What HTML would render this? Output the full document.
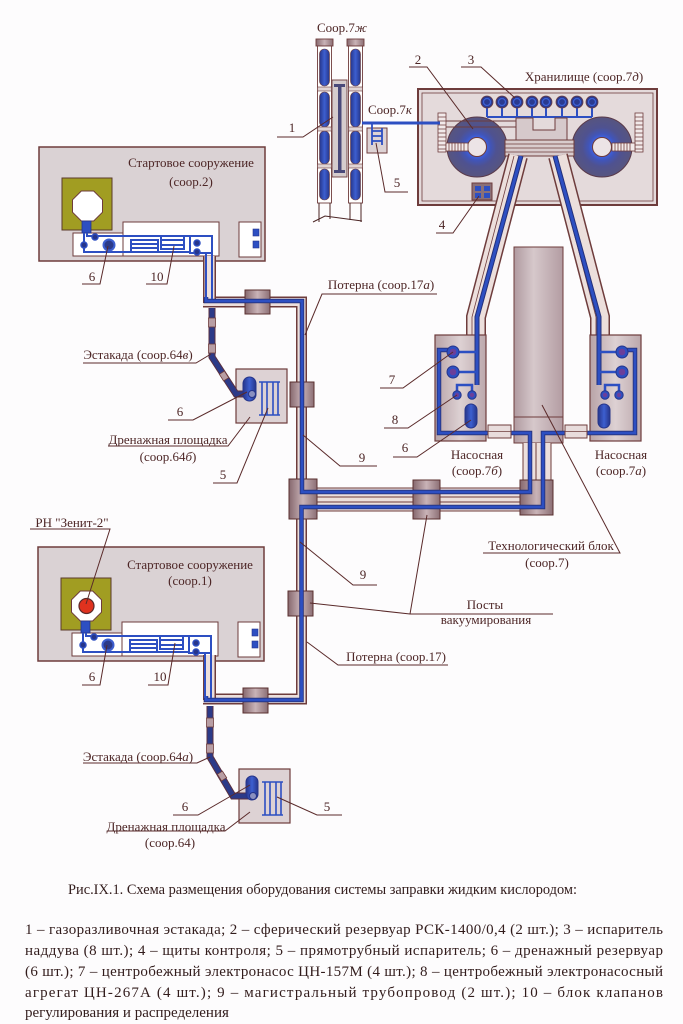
<!DOCTYPE html>
<html><head><meta charset="utf-8">
<style>
html,body{margin:0;padding:0;background:#fdfcfd;}
body{width:683px;height:1024px;overflow:hidden;position:relative;}
svg{position:absolute;left:0;top:0;}
.t{font-family:"Liberation Serif","Noto Serif CJK SC",serif;fill:#4d2626;font-size:13px;}
.c{font-family:"Liberation Serif","Noto Serif CJK SC",serif;fill:#321c1c;font-size:15px;}
</style></head>
<body>
<svg width="683" height="1024" viewBox="0 0 683 1024" xmlns="http://www.w3.org/2000/svg">
<defs>
<linearGradient id="gP" x1="0" y1="0" x2="1" y2="0">
<stop offset="0" stop-color="#86686e"/><stop offset="0.5" stop-color="#c9b3b7"/><stop offset="1" stop-color="#8c6f75"/>
</linearGradient>
<linearGradient id="gT" x1="0" y1="0" x2="1" y2="0">
<stop offset="0" stop-color="#b09aa0"/><stop offset="0.4" stop-color="#d6c8cb"/><stop offset="1" stop-color="#b39ca2"/>
</linearGradient>
<linearGradient id="gH" x1="0" y1="0" x2="1" y2="0">
<stop offset="0" stop-color="#b8a3a7"/><stop offset="0.5" stop-color="#ddd1d3"/><stop offset="1" stop-color="#bca8ac"/>
</linearGradient>
<radialGradient id="gS" cx="0.5" cy="0.5" r="0.5">
<stop offset="0.32" stop-color="#3d60e0"/><stop offset="0.45" stop-color="#4155b8"/><stop offset="0.65" stop-color="#4f5290"/><stop offset="1" stop-color="#57557f"/>
</radialGradient>
<linearGradient id="gC" x1="0" y1="0" x2="1" y2="0">
<stop offset="0" stop-color="#26358a"/><stop offset="0.5" stop-color="#3d5fd0"/><stop offset="1" stop-color="#26358a"/>
</linearGradient>
<g id="L">
<rect x="39" y="147" width="226" height="114" fill="#dad2d4" stroke="#6e3c3c" stroke-width="1.5"/>
<rect x="62" y="178" width="50" height="52" fill="#a19d22" stroke="#5a3a2a" stroke-width="1"/>
<polygon points="81.3,191 93.7,191 102.5,199.8 102.5,212.2 93.7,221 81.3,221 72.5,212.2 72.5,199.8" fill="#fff" stroke="#6e3c3c" stroke-width="1"/>
<rect x="73" y="233" width="50" height="23" fill="#fff" stroke="#6e3c3c" stroke-width="1"/>
<rect x="123" y="222" width="96" height="34" fill="#fff" stroke="#6e3c3c" stroke-width="1"/>
<rect x="239" y="222" width="22" height="35" fill="#fff" stroke="#6e3c3c" stroke-width="1"/>
<rect x="253" y="229" width="6" height="7" fill="#2d4fc2" stroke="#26358a" stroke-width="0.6"/>
<rect x="253" y="241" width="6" height="7" fill="#2d4fc2" stroke="#26358a" stroke-width="0.6"/>
<rect x="82" y="221" width="9" height="12" fill="#2d4fc2" stroke="#26358a" stroke-width="0.8"/>
<g fill="none" stroke="#2d4fc2" stroke-width="2">
<path d="M87,233 V236 H212 V298"/>
<path d="M84,233 V252 H190"/>
<path d="M206,252 V298"/>
<rect x="131" y="240" width="27" height="12"/>
<path d="M131,244 H158 M131,248 H158"/>
<rect x="161" y="236" width="23" height="13"/>
<path d="M161,240 H184 M161,245 H184"/>
<rect x="190" y="236" width="22" height="17"/>
</g>
<g fill="#26358a" stroke="#2d4fc2" stroke-width="1.5">
<circle cx="84" cy="245" r="3"/>
<circle cx="95" cy="237" r="3"/>
<circle cx="197" cy="243" r="3"/>
<circle cx="197" cy="252" r="3"/>
<circle cx="109" cy="245" r="5.5" fill="#2b3a8a" stroke="#3d5fd0" stroke-width="2"/>
</g>
</g>
</defs>

<!-- launch structures -->
<use href="#L"/>
<use href="#L" transform="translate(-1,400)"/>
<circle cx="86.5" cy="606" r="7.5" fill="#e0321e" stroke="#5a2a2a" stroke-width="1.2"/>

<!-- storage box -->
<rect x="418" y="89" width="239" height="116" fill="#e4dadb" stroke="#6e3c3c" stroke-width="2"/>
<rect x="422" y="93" width="231" height="108" fill="none" stroke="#6e3c3c" stroke-width="0.8"/>
<g stroke="#2d4fc2" stroke-width="2" fill="none">
<path d="M487,117 H592 M487,102 V117 M502,102 V117 M517,102 V117 M532,102 V117 M546,102 V117 M562,102 V117 M577,102 V117 M592,102 V117"/>
</g>
<g stroke="#6e3c3c" stroke-width="0.8">
<circle cx="487" cy="102" r="6" fill="#2a3a90"/><circle cx="502" cy="102" r="6" fill="#2a3a90"/><circle cx="517" cy="102" r="6" fill="#2a3a90"/><circle cx="532" cy="102" r="6" fill="#2a3a90"/><circle cx="546" cy="102" r="6" fill="#2a3a90"/><circle cx="562" cy="102" r="6" fill="#2a3a90"/><circle cx="577" cy="102" r="6" fill="#2a3a90"/><circle cx="592" cy="102" r="6" fill="#2a3a90"/>
</g>
<g fill="none" stroke="#3d62d8" stroke-width="1.2">
<circle cx="487" cy="102" r="3.5"/><circle cx="502" cy="102" r="3.5"/><circle cx="517" cy="102" r="3.5"/><circle cx="532" cy="102" r="3.5"/><circle cx="546" cy="102" r="3.5"/><circle cx="562" cy="102" r="3.5"/><circle cx="577" cy="102" r="3.5"/><circle cx="592" cy="102" r="3.5"/>
</g>
<circle cx="477" cy="147" r="30" fill="url(#gS)" stroke="#5a3a4a" stroke-width="1"/>
<circle cx="602" cy="147" r="30" fill="url(#gS)" stroke="#5a3a4a" stroke-width="1"/>
<circle cx="477" cy="147" r="9.5" fill="#ece4e6" stroke="#6e3c3c" stroke-width="1"/>
<circle cx="602" cy="147" r="9.5" fill="#ece4e6" stroke="#6e3c3c" stroke-width="1"/>
<path d="M440,121 H516 M440,127 H516" stroke="#6e3c3c" stroke-width="1" fill="none"/>
<path d="M516,140 V118 H533 V130 H555 V118 H567 V140 Z" fill="#d6c9cb" stroke="#6e3c3c" stroke-width="1"/>
<rect x="505" y="140" width="69" height="16" fill="#d8cbcd" stroke="#6e3c3c" stroke-width="1"/>
<path d="M505,144 H574 M505,148 H574 M505,152 H574" stroke="#6e3c3c" stroke-width="0.8"/>
<!-- ladders -->
<g fill="#f2eaea" stroke="#6e3c3c" stroke-width="0.8">
<rect x="438" y="113" width="8" height="39"/>
<rect x="446" y="143" width="22" height="8"/>
<rect x="635" y="113" width="8" height="39"/>
<rect x="612" y="143" width="23" height="8"/>
</g>
<path d="M438,117 H446 M438,121 H446 M438,125 H446 M438,129 H446 M438,133 H446 M438,137 H446 M438,141 H446 M438,145 H446 M438,149 H446 M635,117 H643 M635,121 H643 M635,125 H643 M635,129 H643 M635,133 H643 M635,137 H643 M635,141 H643 M635,145 H643 M635,149 H643 M449,143 V151 M452,143 V151 M455,143 V151 M458,143 V151 M461,143 V151 M464,143 V151 M615,143 V151 M618,143 V151 M621,143 V151 M624,143 V151 M627,143 V151 M630,143 V151" stroke="#6e3c3c" stroke-width="0.8"/>
<!-- panels 4 -->
<rect x="472" y="183" width="20" height="17" fill="#8a7078" stroke="#6e3c3c" stroke-width="1"/>
<g fill="#2d4fc2"><rect x="475" y="186" width="6" height="5"/><rect x="484" y="186" width="6" height="5"/><rect x="475" y="193" width="6" height="5"/><rect x="484" y="193" width="6" height="5"/></g>

<!-- tech block -->
<rect x="514" y="247" width="49" height="196" fill="url(#gT)" stroke="#6e3c3c" stroke-width="1"/>
<path d="M514,417 H563" stroke="#6e3c3c" stroke-width="1"/>

<!-- diagonal tunnels -->
<g fill="none" stroke-linejoin="miter">
<path d="M518,156 L476,317 V336" stroke="#6e3c3c" stroke-width="20"/>
<path d="M518,156 L476,317 V336" stroke="#ecdfdc" stroke-width="17"/>
<path d="M558,156 L600,317 V336" stroke="#6e3c3c" stroke-width="20"/>
<path d="M558,156 L600,317 V336" stroke="#ecdfdc" stroke-width="17"/>
<path d="M514,156 L472,317 V336 M554,156 L596,317 V336" stroke="#6e3c3c" stroke-width="0.8"/>
</g>

<!-- tunnels 17a / 17 -->
<g fill="none" stroke-linejoin="miter">
<path d="M203,302 H301.5 V489" stroke="#6e3c3c" stroke-width="11"/>
<path d="M203,302 H301.5 V489" stroke="#ecdfdc" stroke-width="8"/>
<path d="M203,699 H301.5 V510" stroke="#6e3c3c" stroke-width="11"/>
<path d="M203,699 H301.5 V510" stroke="#ecdfdc" stroke-width="8"/>
<path d="M209.5,256 V303" stroke="#6e3c3c" stroke-width="13"/>
<path d="M209.5,256 V304" stroke="#ecdfdc" stroke-width="10"/>
<path d="M209.5,655 V700" stroke="#6e3c3c" stroke-width="13"/>
<path d="M209.5,655 V701" stroke="#ecdfdc" stroke-width="10"/>
</g>
<rect x="317" y="488" width="204" height="23" fill="#ecdfdc"/>
<path d="M317,488 H521 M317,497 H521 M317,502 H521 M317,511 H521" stroke="#6e3c3c" stroke-width="1.1"/>
<rect x="523" y="443" width="28" height="37" fill="#ecdfdc"/>
<path d="M523,443 V480 M536,443 V480 M551,443 V480" stroke="#6e3c3c" stroke-width="1"/>

<!-- pump houses -->
<rect x="435" y="335" width="51" height="106" fill="url(#gH)" stroke="#6e3c3c" stroke-width="1.2"/>
<rect x="590" y="335" width="51" height="106" fill="url(#gH)" stroke="#6e3c3c" stroke-width="1.2"/>

<!-- posts / junctions -->
<g fill="url(#gP)" stroke="#5a3030" stroke-width="1">
<rect x="245" y="290" width="25" height="24"/>
<rect x="290" y="382" width="24" height="25"/>
<rect x="289" y="479" width="28" height="40"/>
<rect x="413" y="480" width="27" height="39"/>
<rect x="520" y="480" width="33" height="35"/>
<rect x="288" y="591" width="25" height="25"/>
<rect x="243" y="688" width="25" height="25"/>
</g>

<!-- blue main pipes -->
<g fill="none" stroke-linejoin="miter">
<path d="M521,156 L477,317 V385 M555,156 L599,317 V385" stroke="#24307a" stroke-width="5"/>
<path d="M521,156 L477,317 V385 M555,156 L599,317 V385" stroke="#2d4fc2" stroke-width="3"/>
<path d="M206,297 V301 H302 V492 H530 V433 H439 V350 H448" stroke="#24307a" stroke-width="4.5"/>
<path d="M206,297 V301 H302 V492 H530 V433 H439 V350 H448" stroke="#2d4fc2" stroke-width="2.8"/>
<path d="M206,696 V700 H301.5 V507 H543 V433 H635 V350 H627" stroke="#24307a" stroke-width="4.5"/>
<path d="M206,696 V700 H301.5 V507 H543 V433 H635 V350 H627" stroke="#2d4fc2" stroke-width="2.8"/>
<path d="M206,255 V299 M212,255 V299" stroke="#2d4fc2" stroke-width="2"/>
<path d="M205,655 V698 M211,655 V698" stroke="#2d4fc2" stroke-width="2"/>
<path d="M476,352 H459 M476,372 H459 M457,391 V385 H472 V391 M599,352 H616 M599,372 H616 M605,391 V385 H619 V391" stroke="#2d4fc2" stroke-width="2.5"/>
</g>
<!-- connectors -->
<g fill="#e8dcdc" stroke="#6e3c3c" stroke-width="1">
<rect x="488" y="425" width="23" height="13"/>
<rect x="565" y="425" width="22" height="13"/>
</g>
<path d="M488,431.5 H511 M565,431.5 H587" stroke="#6e3c3c" stroke-width="0.8"/>
<!-- pumps -->
<g fill="#2d4fc2" stroke="#26358a" stroke-width="1">
<circle cx="453" cy="352" r="6"/><circle cx="453" cy="372" r="6"/>
<circle cx="622" cy="352" r="6"/><circle cx="622" cy="372" r="6"/>
<circle cx="457" cy="395" r="4.2"/><circle cx="472" cy="395" r="4.2"/>
<circle cx="605" cy="395" r="4.2"/><circle cx="619" cy="395" r="4.2"/>
</g>
<g fill="#6a3f9a">
<circle cx="453" cy="352" r="3.3"/><circle cx="453" cy="372" r="3.3"/>
<circle cx="622" cy="352" r="3.3"/><circle cx="622" cy="372" r="3.3"/>
<circle cx="457" cy="395" r="2.2"/><circle cx="472" cy="395" r="2.2"/>
<circle cx="605" cy="395" r="2.2"/><circle cx="619" cy="395" r="2.2"/>
</g>
<rect x="465" y="404" width="12" height="24" rx="6" fill="url(#gC)" stroke="#26358a" stroke-width="1"/>
<rect x="598" y="404" width="12" height="24" rx="6" fill="url(#gC)" stroke="#26358a" stroke-width="1"/>

<!-- estacades & drain pads -->
<rect x="236" y="369" width="51" height="54" fill="#ddd2d4" stroke="#6e3c3c" stroke-width="1.2"/>
<rect x="239" y="769" width="51" height="54" fill="#ddd2d4" stroke="#6e3c3c" stroke-width="1.2"/>
<g fill="none">
<path d="M212,308 V357 L236,394 H252" stroke="#5a3040" stroke-width="7"/>
<path d="M212,308 V357 L236,394 H252" stroke="#2c3a88" stroke-width="5"/>
<path d="M210,706 V757 L233,796 H253" stroke="#5a3040" stroke-width="7"/>
<path d="M210,706 V757 L233,796 H253" stroke="#2c3a88" stroke-width="5"/>
</g>
<g fill="#b89ea4" stroke="#6e3c3c" stroke-width="0.8">
<rect x="208.5" y="318" width="7" height="9"/><rect x="208.5" y="344" width="7" height="9"/><rect x="221" y="372" width="6" height="8" transform="rotate(-32 224 376)"/>
<rect x="206.5" y="718" width="7" height="9"/><rect x="206.5" y="744" width="7" height="9"/><rect x="219" y="772" width="6" height="8" transform="rotate(-32 222 776)"/>
</g>
<rect x="243" y="377" width="13" height="24" rx="6.5" fill="url(#gC)" stroke="#26358a" stroke-width="1"/>
<rect x="246" y="776" width="12" height="24" rx="6" fill="url(#gC)" stroke="#26358a" stroke-width="1"/>
<circle cx="252" cy="394" r="3.5" fill="#8a90c0" stroke="#26358a"/>
<circle cx="253" cy="796" r="3.5" fill="#8a90c0" stroke="#26358a"/>
<path d="M259,382 H280 M259,415 H280 M262,382 V415 M267,382 V415 M273,382 V415 M278,382 V415 M262,782 H283 M262,815 H283 M265,782 V815 M270,782 V815 M276,782 V815 M281,782 V815" stroke="#2d4fc2" stroke-width="1.6" fill="none"/>

<!-- 7ж columns -->
<g stroke="#6e3c3c" stroke-width="0.9">
<rect x="316" y="39" width="17" height="7" fill="url(#gP)"/>
<rect x="317.5" y="46" width="14" height="157" fill="#fff"/>
<rect x="347" y="39" width="17" height="7" fill="url(#gP)"/>
<rect x="348.5" y="46" width="14" height="157" fill="#fff"/>
<rect x="332" y="80" width="15" height="97" fill="#d5cccd"/>
</g>
<g fill="url(#gC)" stroke="#6e3c3c" stroke-width="0.6">
<rect x="319.5" y="49" width="10" height="37" rx="5"/><rect x="319.5" y="92" width="10" height="35" rx="5"/><rect x="319.5" y="131" width="10" height="33" rx="5"/><rect x="319.5" y="169" width="10" height="31" rx="5"/>
<rect x="350.5" y="49" width="10" height="37" rx="5"/><rect x="350.5" y="92" width="10" height="35" rx="5"/><rect x="350.5" y="131" width="10" height="33" rx="5"/><rect x="350.5" y="169" width="10" height="31" rx="5"/>
</g>
<g fill="#e0d4d4" stroke="#6e3c3c" stroke-width="0.6">
<rect x="317.5" y="87" width="14" height="4"/><rect x="317.5" y="127" width="14" height="4"/><rect x="317.5" y="164" width="14" height="4"/>
<rect x="348.5" y="87" width="14" height="4"/><rect x="348.5" y="127" width="14" height="4"/><rect x="348.5" y="164" width="14" height="4"/>
</g>
<rect x="338" y="84" width="3.5" height="89" fill="#4a4a7a"/>
<rect x="334" y="84" width="11" height="3" fill="#4a4a7a"/>
<rect x="334" y="170" width="11" height="3" fill="#4a4a7a"/>
<path d="M319,203 V222 M330,203 V219 M350,203 V220 M361,203 V222 M313,222 L325,216 L362,221" stroke="#4a2424" stroke-width="1" fill="none"/>
<!-- 7к -->
<path d="M362,123 H440" stroke="#2d4fc2" stroke-width="3"/>
<rect x="367" y="128" width="20" height="25" fill="#ddd2d4" stroke="#6e3c3c" stroke-width="1"/>
<path d="M372,123 V145 M382,128 V145 M372,131 H382 M372,136 H382 M372,141 H382" stroke="#2d4fc2" stroke-width="1.8" fill="none"/>

<!-- leaders -->
<g stroke="#5a2a2a" stroke-width="1" fill="none">
<path d="M277,137 H303 L333,117"/>
<path d="M409,67 H427 L473,129"/>
<path d="M461,67 H481 L515,98"/>
<path d="M408,192 H385 L376,143"/>
<path d="M436,233 H453 L479,196"/>
<path d="M82,284 H100 L108,246"/>
<path d="M146,284 H167 L174,246"/>
<path d="M437,294 H322 L305,335"/>
<path d="M83,363 H196 L211,354"/>
<path d="M168,420 H193 L247,392"/>
<path d="M108,446 H228 L250,417"/>
<path d="M213,483 H237 L268,408"/>
<path d="M380,388 H403 L453,352"/>
<path d="M384,428 H408 L457,395"/>
<path d="M393,457 H417 L471,420"/>
<path d="M377,466 H340 L303,435"/>
<path d="M483,553 H620 L542,405"/>
<path d="M553,614 H410 L427,515 M410,614 L310,603"/>
<path d="M377,585 H353 L300,542"/>
<path d="M448,665 H338 L307,642"/>
<path d="M30,529 H110 L86,604"/>
<path d="M82,685 H100 L107,645"/>
<path d="M148,685 H168 L175,643"/>
<path d="M83,763 H197 L210,757"/>
<path d="M173,815 H198 L250,785"/>
<path d="M107,831 H225 L250,812"/>
<path d="M342,815 H317 L277,797"/>
</g>

<!-- labels -->
<g class="t" text-anchor="middle">
<text x="342" y="32">Соор.7<tspan font-style="italic">ж</tspan></text>
<text x="292" y="132">1</text>
<text x="418" y="64">2</text>
<text x="471" y="64">3</text>
<text x="584" y="81">Хранилище (соор.7<tspan font-style="italic">д</tspan>)</text>
<text x="390" y="114">Соор.7<tspan font-style="italic">к</tspan></text>
<text x="397" y="187">5</text>
<text x="442" y="229">4</text>
<text x="191" y="167">Стартовое сооружение</text>
<text x="191" y="186">(соор.2)</text>
<text x="92" y="281">6</text>
<text x="157" y="281">10</text>
<text x="381" y="289">Потерна (соор.17<tspan font-style="italic">а</tspan>)</text>
<text x="138" y="359">Эстакада (соор.64<tspan font-style="italic">в</tspan>)</text>
<text x="180" y="416">6</text>
<text x="168" y="444">Дренажная площадка</text>
<text x="168" y="461">(соор.64<tspan font-style="italic">б</tspan>)</text>
<text x="223" y="479">5</text>
<text x="392" y="384">7</text>
<text x="395" y="424">8</text>
<text x="405" y="452">6</text>
<text x="362" y="462">9</text>
<text x="477" y="459">Насосная</text>
<text x="477" y="475">(соор.7<tspan font-style="italic">б</tspan>)</text>
<text x="621" y="459">Насосная</text>
<text x="621" y="475">(соор.7<tspan font-style="italic">а</tspan>)</text>
<text x="551" y="550">Технологический блок</text>
<text x="547" y="567">(соор.7)</text>
<text x="485" y="609">Посты</text>
<text x="486" y="624">вакуумирования</text>
<text x="363" y="579">9</text>
<text x="396" y="661">Потерна (соор.17)</text>
<text x="72" y="527">РН "Зенит-2"</text>
<text x="190" y="569">Стартовое сооружение</text>
<text x="190" y="585">(соор.1)</text>
<text x="92" y="681">6</text>
<text x="160" y="681">10</text>
<text x="138" y="761">Эстакада (соор.64<tspan font-style="italic">а</tspan>)</text>
<text x="185" y="811">6</text>
<text x="166" y="831">Дренажная площадка</text>
<text x="170" y="847">(соор.64)</text>
<text x="327" y="811">5</text>
</g>

<!-- caption -->
<text class="c" x="68" y="894" textLength="509" lengthAdjust="spacingAndGlyphs">Рис.IX.1. Схема размещения оборудования системы заправки жидким кислородом:</text>
<text class="c" x="25" y="934" textLength="638" lengthAdjust="spacing">1 – газоразливочная эстакада; 2 – сферический резервуар РСК-1400/0,4 (2 шт.); 3 – испаритель</text>
<text class="c" x="25" y="955" textLength="638" lengthAdjust="spacing">наддува (8 шт.); 4 – щиты контроля; 5 – прямотрубный испаритель; 6 – дренажный резервуар</text>
<text class="c" x="25" y="976" textLength="638" lengthAdjust="spacing">(6 шт.); 7 – центробежный электронасос ЦН-157М (4 шт.); 8 – центробежный электронасосный</text>
<text class="c" x="25" y="997" textLength="638" lengthAdjust="spacing">агрегат  ЦН-267А  (4  шт.);  9  –  магистральный  трубопровод  (2  шт.);  10  –  блок  клапанов</text>
<text class="c" x="25" y="1017">регулирования и распределения</text>
</svg>
</body></html>
